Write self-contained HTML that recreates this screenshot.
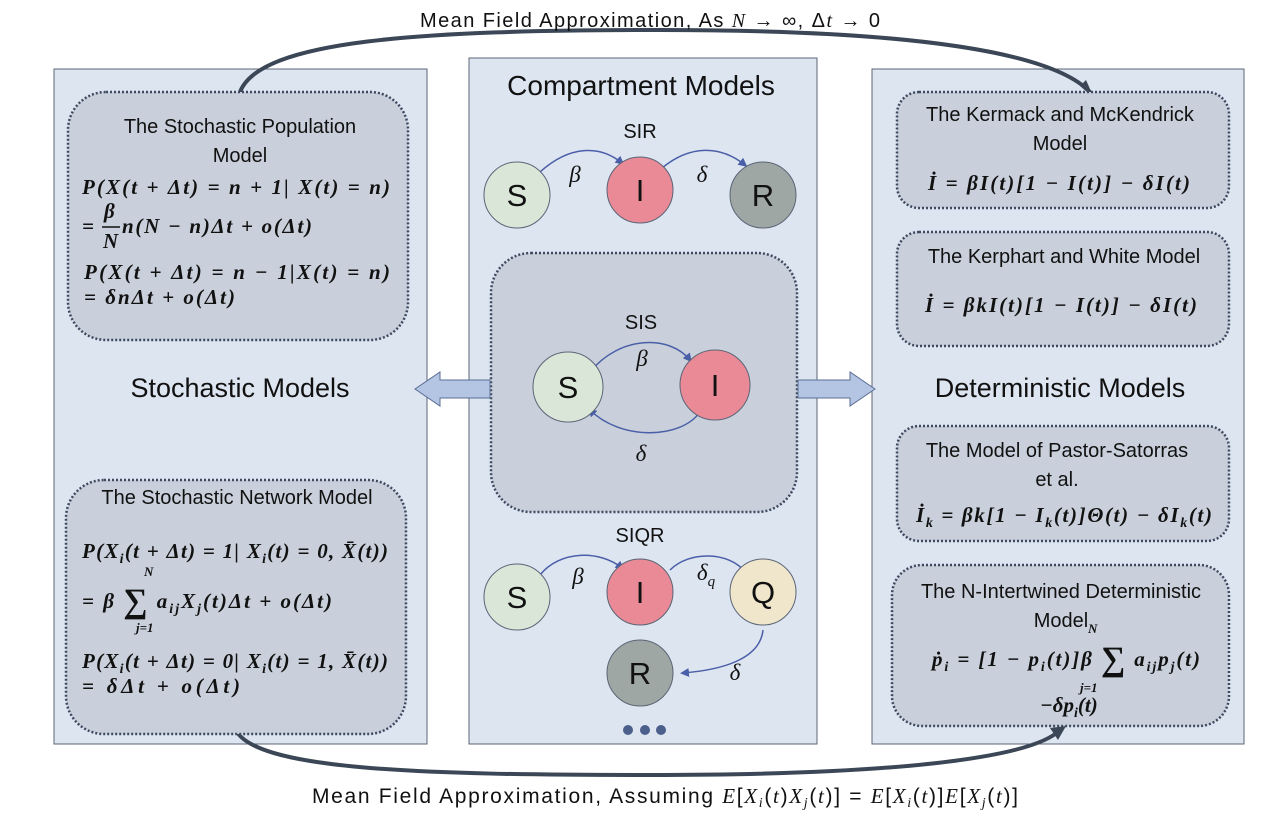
<!DOCTYPE html>
<html><head><meta charset="utf-8"><style>
body{margin:0;background:#fff;}
svg{display:block;}
.t{font-family:"Liberation Sans",sans-serif;fill:#111;}
.m{font-family:"Liberation Serif",serif;font-weight:bold;font-style:italic;fill:#111;}
.g{font-family:"Liberation Serif",serif;font-style:italic;fill:#111;}
</style></head><body>
<svg width="1280" height="816" viewBox="0 0 1280 816" xmlns="http://www.w3.org/2000/svg">
<defs>
<marker id="b" markerWidth="6" markerHeight="6" refX="4" refY="3" orient="auto"><path d="M0,0 L6,3 L0,6 z" fill="#4a5fa8"/></marker>
</defs>
<rect x="54" y="69" width="373" height="675" fill="#dde5f1" stroke="#5b6577" stroke-width="1"/>
<rect x="469" y="58" width="348" height="686" fill="#dde5f1" stroke="#5b6577" stroke-width="1"/>
<rect x="872" y="69" width="372" height="675" fill="#dde5f1" stroke="#5b6577" stroke-width="1"/>
<path d="M240,92 C260,40 420,30 660,30 C900,30 1050,50 1090,92" fill="none" stroke="#3b4656" stroke-width="4"/>
<path d="M1080,86 L1094,98 L1086,80 z" fill="#3b4656"/>
<path d="M235,728 C250,770 420,775 650,775 C880,775 1030,760 1060,730" fill="none" stroke="#3b4656" stroke-width="4"/>
<path d="M1050,728 L1066,726 L1058,740 z" fill="#3b4656"/>
<text class="t" x="420" y="27" font-size="20" textLength="460" lengthAdjust="spacing">Mean Field Approximation, As <tspan class="g">N</tspan>  → ∞, Δ<tspan class="g">t</tspan>  → 0</text>
<text class="t" x="312" y="803" font-size="21" textLength="706" lengthAdjust="spacing">Mean Field Approximation, Assuming <tspan class="g">E</tspan>[<tspan class="g">X<tspan font-size="14" dy="4">i</tspan></tspan><tspan dy="-4">(</tspan><tspan class="g">t</tspan>)<tspan class="g">X<tspan font-size="14" dy="4">j</tspan></tspan><tspan dy="-4">(</tspan><tspan class="g">t</tspan>)] = <tspan class="g">E</tspan>[<tspan class="g">X<tspan font-size="14" dy="4">i</tspan></tspan><tspan dy="-4">(</tspan><tspan class="g">t</tspan>)]<tspan class="g">E</tspan>[<tspan class="g">X<tspan font-size="14" dy="4">j</tspan></tspan><tspan dy="-4">(</tspan><tspan class="g">t</tspan>)]</text>
<g fill="#c9d0db" stroke="#3f4a60" stroke-width="2.5" stroke-dasharray="2,2">
<rect x="68" y="92" width="340" height="248" rx="38"/>
<rect x="66" y="480" width="340" height="254" rx="38"/>
<rect x="491" y="253" width="306" height="259" rx="40"/>
<rect x="897" y="92" width="332" height="116" rx="22"/>
<rect x="897" y="232" width="332" height="114" rx="22"/>
<rect x="897" y="426" width="332" height="115" rx="22"/>
<rect x="892" y="565" width="337" height="161" rx="30"/>
</g>
<text class="t" x="240" y="133" font-size="20" text-anchor="middle">The Stochastic Population</text>
<text class="t" x="240" y="162" font-size="20" text-anchor="middle">Model</text>
<text class="m" x="82" y="194" font-size="21" textLength="308" lengthAdjust="spacing">P(X(t + Δt) = n + 1| X(t) = n)</text>
<text class="m" x="82" y="233" font-size="21">= </text>
<text class="m" x="104" y="218" font-size="21">β</text>
<line x1="102" y1="227" x2="120" y2="227" stroke="#111" stroke-width="1.5"/>
<text class="m" x="103" y="248" font-size="21">N</text>
<text class="m" x="122" y="233" font-size="21" textLength="190" lengthAdjust="spacing">n(N − n)Δt + o(Δt)</text>
<text class="m" x="84" y="279" font-size="21" textLength="306" lengthAdjust="spacing">P(X(t + Δt) = n − 1|X(t) = n)</text>
<text class="m" x="84" y="304" font-size="21" textLength="151" lengthAdjust="spacing">= δnΔt + o(Δt)</text>
<text class="t" x="240" y="397" font-size="27" text-anchor="middle">Stochastic Models</text>
<text class="t" x="237" y="504" font-size="20" text-anchor="middle">The Stochastic Network Model</text>
<text class="m" x="82" y="558" font-size="21" textLength="306" lengthAdjust="spacing">P(X<tspan font-size="14" dy="5">i</tspan><tspan dy="-5">(t + Δt) = 1| X</tspan><tspan font-size="14" dy="5">i</tspan><tspan dy="-5">(t) = 0, X̄(t))</tspan></text>
<text class="m" x="144" y="576" font-size="13">N</text>
<text class="m" x="82" y="608" font-size="21" textLength="250" lengthAdjust="spacing">= β <tspan font-size="34" font-style="normal" dy="4">∑</tspan><tspan dy="-4"> a</tspan><tspan font-size="14" dy="5">ij</tspan><tspan dy="-5">X</tspan><tspan font-size="14" dy="5">j</tspan><tspan dy="-5">(t)Δt + o(Δt)</tspan></text>
<text class="m" x="136" y="632" font-size="13">j=1</text>
<text class="m" x="82" y="668" font-size="21" textLength="306" lengthAdjust="spacing">P(X<tspan font-size="14" dy="5">i</tspan><tspan dy="-5">(t + Δt) = 0| X</tspan><tspan font-size="14" dy="5">i</tspan><tspan dy="-5">(t) = 1, X̄(t))</tspan></text>
<text class="m" x="82" y="693" font-size="21" textLength="158" lengthAdjust="spacing">= δΔt + o(Δt)</text>
<text class="t" x="641" y="95" font-size="28" text-anchor="middle">Compartment Models</text>
<text class="t" x="640" y="138" font-size="20" text-anchor="middle">SIR</text>
<g fill="none" stroke="#4a5fa8" stroke-width="1.5">
<path d="M540,172 C570,145 600,145 622,163" marker-end="url(#b)"/>
<path d="M662,168 C690,145 720,145 745,165" marker-end="url(#b)"/>
<path d="M590,372 C620,335 670,335 690,360" marker-end="url(#b)"/>
<path d="M700,412 C680,440 620,440 590,410" marker-end="url(#b)"/>
<path d="M540,575 C560,550 600,550 622,568" marker-end="url(#b)"/>
<path d="M670,570 C690,550 730,552 745,572" marker-end="url(#b)"/>
<path d="M763,630 C760,660 720,670 683,673" marker-end="url(#b)"/>
</g>
<g stroke="#5b6577" stroke-width="1">
<circle cx="517" cy="195" r="33" fill="#d9e6d8"/>
<circle cx="640" cy="190" r="33" fill="#e98a96"/>
<circle cx="763" cy="195" r="33" fill="#9ea7a4"/>
<circle cx="568" cy="387" r="35" fill="#d9e6d8"/>
<circle cx="715" cy="385" r="35" fill="#e98a96"/>
<circle cx="517" cy="597" r="33" fill="#d9e6d8"/>
<circle cx="640" cy="592" r="33" fill="#e98a96"/>
<circle cx="763" cy="592" r="33" fill="#f0e6cc"/>
<circle cx="640" cy="673" r="33" fill="#9ea7a4"/>
</g>
<g class="t" font-size="31" text-anchor="middle">
<text x="517" y="206">S</text><text x="640" y="201">I</text><text x="763" y="206">R</text>
<text x="568" y="398">S</text><text x="715" y="396">I</text>
<text x="517" y="608">S</text><text x="640" y="603">I</text><text x="763" y="603">Q</text><text x="640" y="684">R</text>
</g>
<g class="g" font-size="23" text-anchor="middle">
<text x="575" y="182">β</text><text x="702" y="182">δ</text>
<text x="642" y="366">β</text><text x="641" y="461">δ</text>
<text x="578" y="584">β</text><text x="706" y="580">δ<tspan font-size="15" dy="6">q</tspan></text><text x="735" y="680">δ</text>
</g>
<text class="t" x="641" y="329" font-size="20" text-anchor="middle">SIS</text>
<text class="t" x="640" y="542" font-size="20" text-anchor="middle">SIQR</text>
<g fill="#4a5f8a"><circle cx="628" cy="730" r="5"/><circle cx="645" cy="730" r="5"/><circle cx="661" cy="730" r="5"/></g>
<path d="M490,380 L440,380 L440,372 L415,389 L440,406 L440,398 L490,398 z" fill="#b4c5e4" stroke="#5b6e94"/>
<path d="M798,380 L850,380 L850,372 L875,389 L850,406 L850,398 L798,398 z" fill="#b4c5e4" stroke="#5b6e94"/>
<text class="t" x="1060" y="121" font-size="20" text-anchor="middle">The Kermack and McKendrick</text>
<text class="t" x="1060" y="150" font-size="20" text-anchor="middle">Model</text>
<text class="m" x="928" y="190" font-size="21" textLength="262" lengthAdjust="spacing">İ = βI(t)[1 − I(t)] − δI(t)</text>
<text class="t" x="1064" y="263" font-size="20" text-anchor="middle">The Kerphart and White Model</text>
<text class="m" x="925" y="312" font-size="21" textLength="272" lengthAdjust="spacing">İ = βkI(t)[1 − I(t)] − δI(t)</text>
<text class="t" x="1060" y="397" font-size="27" text-anchor="middle">Deterministic Models</text>
<text class="t" x="1057" y="457" font-size="20" text-anchor="middle">The Model of Pastor-Satorras</text>
<text class="t" x="1057" y="486" font-size="20" text-anchor="middle">et al.</text>
<text class="m" x="916" y="522" font-size="21" textLength="296" lengthAdjust="spacing">İ<tspan font-size="14" dy="5">k</tspan><tspan dy="-5"> = βk[1 − I</tspan><tspan font-size="14" dy="5">k</tspan><tspan dy="-5">(t)]Θ(t) − δI</tspan><tspan font-size="14" dy="5">k</tspan><tspan dy="-5">(t)</tspan></text>
<text class="t" x="1061" y="598" font-size="20" text-anchor="middle">The N-Intertwined Deterministic</text>
<text class="t" x="1061" y="627" font-size="20" text-anchor="middle">Model</text>
<text class="m" x="1088" y="633" font-size="13">N</text>
<text class="m" x="932" y="666" font-size="21" textLength="268" lengthAdjust="spacing">ṗ<tspan font-size="14" dy="5">i</tspan><tspan dy="-5"> = [1 − p</tspan><tspan font-size="14" dy="5">i</tspan><tspan dy="-5">(t)]β </tspan><tspan font-size="34" font-style="normal" dy="4">∑</tspan><tspan dy="-4"> a</tspan><tspan font-size="14" dy="5">ij</tspan><tspan dy="-5">p</tspan><tspan font-size="14" dy="5">j</tspan><tspan dy="-5">(t)</tspan></text>
<text class="m" x="1080" y="692" font-size="13">j=1</text>
<text class="m" x="1040" y="712" font-size="21">−δp<tspan font-size="14" dy="5">i</tspan><tspan dy="-5">(t)</tspan></text>
</svg>
</body></html>
